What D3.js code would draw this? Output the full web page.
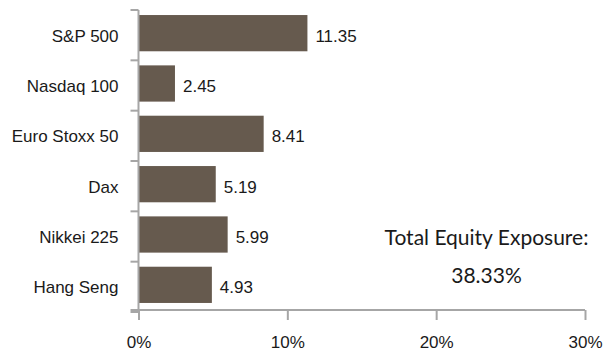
<!DOCTYPE html>
<html><head><meta charset="utf-8">
<script src="https://cdn.jsdelivr.net/npm/d3@7"></script>
<style>body{margin:0;background:#fff}svg{display:block}</style>
</head><body>
<svg id="c" width="606" height="352"></svg>
<script>
const categories = ["S&P 500","Nasdaq 100","Euro Stoxx 50","Dax","Nikkei 225","Hang Seng"];
const values = [11.35, 2.45, 8.41, 5.19, 5.99, 4.93];
const xTicks = [0, 10, 20, 30];
const annotation = ["Total Equity Exposure:", "38.33%"];

const svg = d3.select("#c");
const x = d3.scaleLinear().domain([0,30]).range([138.5,585]);
const y = d3.scaleBand().domain(categories).range([10,310]).paddingInner(0.28).paddingOuter(0.12);
const barColor = "#665a4e", axisColor = "#a6a6a6", textColor = "#1a1a1a";
const font = "'Liberation Sans', Arial, sans-serif";
const fs = 17;

// bars
svg.selectAll("rect.bar").data(values).join("rect")
  .attr("x", x(0)).attr("y", (d,i)=>y(categories[i]) - 1)
  .attr("width", d=>x(d)-x(0)).attr("height", y.bandwidth())
  .attr("fill", barColor);

// value labels
svg.selectAll("text.val").data(values).join("text")
  .attr("x", d=>x(d)+8).attr("y", (d,i)=>y(categories[i])+y.bandwidth()/2)
  .attr("dy","0.45em").attr("font-family",font).attr("font-size",fs)
  .attr("fill",textColor).text(d=>d.toFixed(2));

// y axis line with boundary ticks
const bounds = d3.range(categories.length+1).map(i=>10+i*y.step());
svg.append("line").attr("x1",x(0)).attr("x2",x(0)).attr("y1",10).attr("y2",310)
  .attr("stroke",axisColor).attr("stroke-width",2);
svg.selectAll("line.yt").data(bounds).join("line")
  .attr("x1",x(0)-8).attr("x2",x(0)).attr("y1",d=>d).attr("y2",d=>d)
  .attr("stroke",axisColor).attr("stroke-width",2);

// y labels
svg.selectAll("text.cat").data(categories).join("text")
  .attr("x",118.5).attr("y",d=>y(d)+y.bandwidth()/2).attr("dy","0.45em")
  .attr("text-anchor","end").attr("font-family",font).attr("font-size",fs)
  .attr("fill",textColor).text(d=>d);

// x axis
const xAxis = d3.axisBottom(x).tickValues(xTicks).tickSize(10).tickPadding(16).tickFormat(d=>d+"%");
const gx = svg.append("g").attr("transform","translate(0,310)").call(xAxis);
gx.select(".domain").attr("stroke",axisColor).attr("stroke-width",2).attr("d",`M${x(0)-8},0H${x(30)}`);
gx.selectAll(".tick line").attr("stroke",axisColor).attr("stroke-width",2);
gx.selectAll(".tick text").attr("font-family",font).attr("font-size",fs).attr("fill",textColor);

// annotation
svg.selectAll("text.ann").data(annotation).join("text")
  .attr("x",486.5).attr("y",(d,i)=>245+i*38).attr("text-anchor","middle")
  .attr("font-family","Lato, 'Open Sans', sans-serif").attr("font-size",21)
  .attr("fill",textColor).text(d=>d);
</script>
</body></html>
